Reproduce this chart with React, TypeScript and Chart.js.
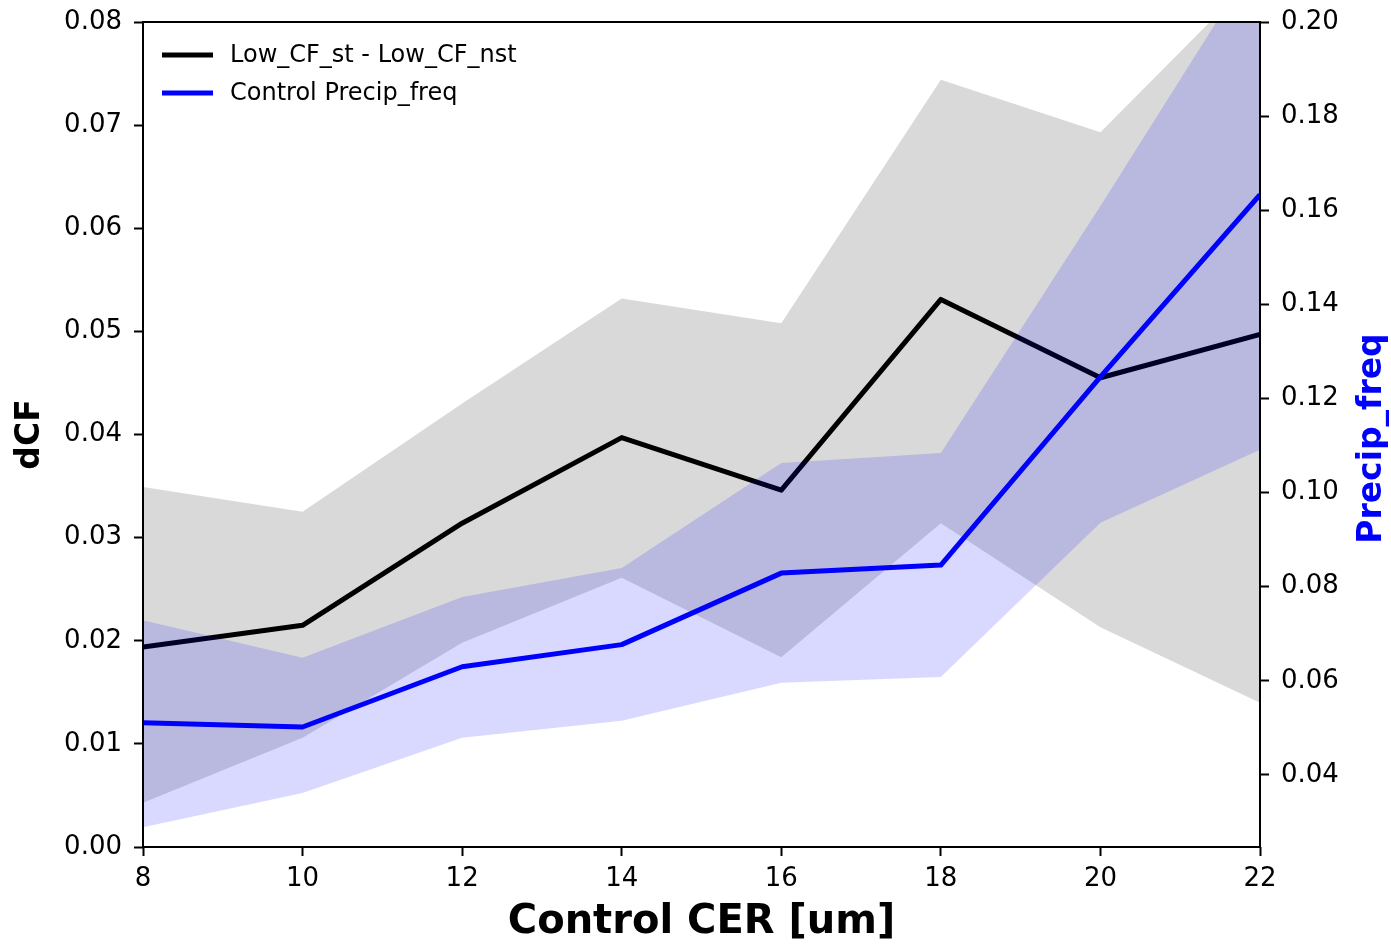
import React, { useEffect, useRef } from "react";
import { Chart, registerables } from "chart.js";

Chart.register(...registerables);

// ---- data ----
const CER = [8, 10, 12, 14, 16, 18, 20, 22];
const DCF = [0.0194, 0.0215, 0.0314, 0.0397, 0.0346, 0.0531, 0.0455, 0.0497];
const DCF_UPPER = [0.0349, 0.0325, 0.0430, 0.0532, 0.0508, 0.0744, 0.0693, 0.0849];
const DCF_LOWER = [0.0043, 0.0106, 0.0198, 0.0261, 0.0184, 0.0314, 0.0213, 0.0140];
const PRECIP = [0.0511, 0.0502, 0.0630, 0.0677, 0.0829, 0.0846, 0.1246, 0.1633];
const PRECIP_UPPER = [0.0729, 0.0649, 0.0778, 0.0840, 0.1063, 0.1084, 0.1609, 0.2147];
const PRECIP_LOWER = [0.0289, 0.0362, 0.0479, 0.0515, 0.0596, 0.0608, 0.0936, 0.1091];

const X_TICKS = [8, 10, 12, 14, 16, 18, 20, 22];
const LEFT_TICKS = [0, 0.01, 0.02, 0.03, 0.04, 0.05, 0.06, 0.07, 0.08];
const RIGHT_TICKS = [0.04, 0.06, 0.08, 0.1, 0.12, 0.14, 0.16, 0.18, 0.2];

const SERIES_LABELS = ["Low_CF_st - Low_CF_nst", "Control Precip_freq"];
const SERIES_COLORS = ["#000000", "#0000ff"];
const X_TITLE = "Control CER [um]";
const LEFT_TITLE = "dCF";
const RIGHT_TITLE = "Precip_freq";

const FONT = '"DejaVu Sans", "Liberation Sans", sans-serif';

const pts = (ys: number[]) => CER.map((x, i) => ({ x, y: ys[i] }));

const framePlugin = {
  id: "frame",
  afterDatasetsDraw(chart: any) {
    const { ctx, chartArea } = chart;
    ctx.save();
    ctx.strokeStyle = "#000";
    ctx.lineWidth = 2;
    ctx.strokeRect(chartArea.left, chartArea.top, chartArea.right - chartArea.left, chartArea.bottom - chartArea.top);
    ctx.restore();
  },
};

const legendPlugin = {
  id: "insideLegend",
  afterDraw(chart: any) {
    const { ctx, chartArea } = chart;
    ctx.save();
    ctx.font = `24px ${FONT}`;
    ctx.textBaseline = "middle";
    ctx.textAlign = "left";
    SERIES_LABELS.forEach((label, i) => {
      const y = chartArea.top + 33 + i * 38;
      const x0 = chartArea.left + 19;
      ctx.strokeStyle = SERIES_COLORS[i];
      ctx.lineWidth = 5;
      ctx.beginPath();
      ctx.moveTo(x0, y);
      ctx.lineTo(x0 + 51, y);
      ctx.stroke();
      ctx.fillStyle = "#000";
      ctx.fillText(label, x0 + 68, y + 1);
    });
    ctx.restore();
  },
};

const rightTitlePlugin = {
  id: "rightTitle",
  afterDraw(chart: any) {
    const { ctx, chartArea } = chart;
    ctx.save();
    ctx.translate(chartArea.right + 121, (chartArea.top + chartArea.bottom) / 2 + 4);
    ctx.rotate(-Math.PI / 2);
    ctx.font = `bold 33px ${FONT}`;
    ctx.fillStyle = "#0000ff";
    ctx.textAlign = "center";
    ctx.textBaseline = "alphabetic";
    ctx.fillText(RIGHT_TITLE, 0, 0);
    ctx.restore();
  },
};

export default function App() {
  const canvasRef = useRef<HTMLCanvasElement | null>(null);

  useEffect(() => {
    if (!canvasRef.current) return;
    const tickFont = { family: FONT, size: 26 };
    const yTickFont = { family: FONT, size: 26, lineHeight: 0.75 };
    const chart = new Chart(canvasRef.current, {
      type: "line",
      data: {
        datasets: [
          {
            label: SERIES_LABELS[0],
            data: pts(DCF),
            yAxisID: "y",
            borderColor: SERIES_COLORS[0],
            backgroundColor: SERIES_COLORS[0],
            borderWidth: 5,
            pointRadius: 0,
            fill: false,
            order: 2,
            borderJoinStyle: "round",
          },
          {
            label: SERIES_LABELS[1],
            data: pts(PRECIP),
            yAxisID: "y1",
            borderColor: SERIES_COLORS[1],
            backgroundColor: SERIES_COLORS[1],
            borderWidth: 5,
            pointRadius: 0,
            fill: false,
            order: 0,
            borderJoinStyle: "round",
          },
          {
            label: "dCF lower",
            data: pts(DCF_LOWER),
            yAxisID: "y",
            borderWidth: 0,
            borderColor: "rgba(0,0,0,0)",
            pointRadius: 0,
            fill: false,
            order: 3,
          },
          {
            label: "dCF upper",
            data: pts(DCF_UPPER),
            yAxisID: "y",
            borderWidth: 0,
            borderColor: "rgba(0,0,0,0)",
            backgroundColor: "rgba(128,128,128,0.3)",
            pointRadius: 0,
            fill: 2,
            order: 3,
          },
          {
            label: "Precip lower",
            data: pts(PRECIP_LOWER),
            yAxisID: "y1",
            borderWidth: 0,
            borderColor: "rgba(0,0,0,0)",
            pointRadius: 0,
            fill: false,
            order: 1,
          },
          {
            label: "Precip upper",
            data: pts(PRECIP_UPPER),
            yAxisID: "y1",
            borderWidth: 0,
            borderColor: "rgba(0,0,0,0)",
            backgroundColor: "rgba(0,0,255,0.15)",
            pointRadius: 0,
            fill: 4,
            order: 1,
          },
        ] as any,
      },
      options: {
        animation: false,
        responsive: true,
        maintainAspectRatio: false,
        layout: { padding: { top: 22, left: 0, right: 0, bottom: 0 } },
        plugins: {
          tooltip: { enabled: false },
          legend: { display: false },
        },
        scales: {
          x: {
            type: "linear",
            min: 8,
            max: 22,
            afterBuildTicks: (s: any) => {
              s.ticks = X_TICKS.map((v) => ({ value: v }));
            },
            afterFit: (s: any) => {
              s.height = 97;
            },
            grid: { display: true, drawOnChartArea: false, drawTicks: true, tickLength: 9, tickColor: "#000", tickWidth: 2 },
            border: { display: false },
            ticks: { color: "#000", font: tickFont, padding: 8, maxRotation: 0, autoSkip: false, callback: (v: any) => String(v) },
            title: {
              display: true,
              text: X_TITLE,
              color: "#000",
              font: { family: FONT, size: 40, weight: "bold", lineHeight: 1 },
              padding: { top: 0, bottom: 1 },
            },
          },
          y: {
            type: "linear",
            position: "left",
            min: 0,
            max: 0.08,
            afterBuildTicks: (s: any) => {
              s.ticks = LEFT_TICKS.map((v) => ({ value: v }));
            },
            afterFit: (s: any) => {
              s.width = 143;
            },
            grid: { display: true, drawOnChartArea: false, drawTicks: true, tickLength: 9, tickColor: "#000", tickWidth: 2 },
            border: { display: false },
            ticks: { color: "#000", font: yTickFont, padding: 12, autoSkip: false, callback: (v: any) => Number(v).toFixed(2) },
            title: {
              display: true,
              text: LEFT_TITLE,
              color: "#000",
              font: { family: FONT, size: 33, weight: "bold", lineHeight: 1.2 },
              padding: { top: 11, bottom: 0 },
            },
          },
          y1: {
            type: "linear",
            position: "right",
            min: 0.0247,
            max: 0.2,
            afterBuildTicks: (s: any) => {
              s.ticks = RIGHT_TICKS.map((v) => ({ value: v }));
            },
            afterFit: (s: any) => {
              s.width = 131;
            },
            grid: { display: true, drawOnChartArea: false, drawTicks: true, tickLength: 9, tickColor: "#000", tickWidth: 2 },
            border: { display: false },
            ticks: { color: "#000", font: yTickFont, padding: 12, autoSkip: false, callback: (v: any) => Number(v).toFixed(2) },
          },
        },
      },
      plugins: [framePlugin, legendPlugin, rightTitlePlugin],
    } as any);
    return () => chart.destroy();
  }, []);

  return (
    <div style={{ position: "fixed", left: 0, top: 0, width: 1391, height: 944, background: "#fff" }}>
      <canvas ref={canvasRef} />
    </div>
  );
}
